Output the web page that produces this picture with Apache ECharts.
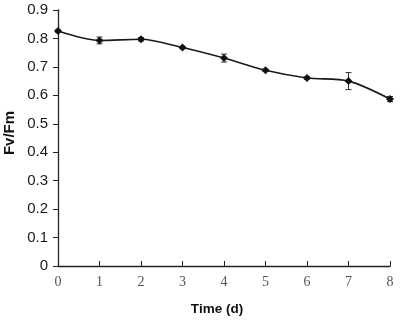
<!DOCTYPE html>
<html><head><meta charset="utf-8">
<script src="https://cdn.jsdelivr.net/npm/echarts@6/dist/echarts.min.js"></script>
<style>html,body{margin:0;padding:0;background:#fff}#c{width:400px;height:322px}</style>
</head><body><div id="c"></div>
<script>
var days = [0, 1, 2, 3, 4, 5, 6, 7, 8];
var fvfm = [0.826, 0.793, 0.797, 0.768, 0.731, 0.688, 0.661, 0.650, 0.587];
var errs = [0.004, 0.012, 0.006, 0.004, 0.014, 0.004, 0.004, 0.030, 0.009];
var yTicks = [0, 0.1, 0.2, 0.3, 0.4, 0.5, 0.6, 0.7, 0.8, 0.9];

var chart = echarts.init(document.getElementById('c'));
var lineData = days.map(function(d, i){ return [d, fvfm[i]]; });
var errData = days.map(function(d, i){ return [d, fvfm[i] - errs[i], fvfm[i] + errs[i]]; });

chart.setOption({
  animation: false,
  backgroundColor: '#fff',
  grid: {left: 58, right: 10, top: 10, bottom: 56, containLabel: false},
  xAxis: {
    type: 'value', min: 0, max: 8, interval: 1,
    axisLine: {lineStyle: {color: '#222', width: 1.3}},
    axisTick: {inside: true, length: 5, lineStyle: {color: '#222'}},
    axisLabel: {fontFamily: 'Liberation Serif', fontSize: 14, color: '#555', margin: 9},
    splitLine: {show: false}
  },
  yAxis: {
    type: 'value', min: 0, max: 0.9, interval: 0.1,
    axisLine: {show: true, lineStyle: {color: '#222', width: 1.3}},
    axisTick: {show: true, inside: false, length: 5, lineStyle: {color: '#222'}},
    axisLabel: {fontFamily: 'Liberation Sans', fontSize: 15, color: '#1a1a1a', margin: 10,
      formatter: function(v){ return String(Math.round(v*10)/10); }},
    splitLine: {show: false}
  },
  graphic: [
    {type: 'text', style: {text: 'Fv/Fm', font: 'bold 15px "Liberation Sans"', fill: '#111',
      textAlign: 'center', textVerticalAlign: 'middle'}, x: 10, y: 133, rotation: Math.PI/2},
    {type: 'text', style: {text: 'Time (d)', font: 'bold 13.5px "Liberation Sans"', fill: '#111',
      textAlign: 'center', textVerticalAlign: 'middle'}, x: 217, y: 309}
  ],
  series: [
    {
      type: 'line', data: lineData, smooth: 0.3,
      symbol: 'diamond', symbolSize: 8,
      lineStyle: {color: '#1a1a1a', width: 1.6},
      itemStyle: {color: '#111'}
    },
    {
      type: 'custom', data: errData,
      renderItem: function(params, api){
        var x = api.value(0);
        var lo = api.coord([x, api.value(1)]);
        var hi = api.coord([x, api.value(2)]);
        var w = 3;
        return {type: 'group', children: [
          {type: 'line', shape: {x1: lo[0], y1: lo[1], x2: hi[0], y2: hi[1]}, style: {stroke: '#333', lineWidth: 1}},
          {type: 'line', shape: {x1: lo[0]-w, y1: lo[1], x2: lo[0]+w, y2: lo[1]}, style: {stroke: '#333', lineWidth: 1}},
          {type: 'line', shape: {x1: hi[0]-w, y1: hi[1], x2: hi[0]+w, y2: hi[1]}, style: {stroke: '#333', lineWidth: 1}}
        ]};
      },
      z: 3
    }
  ]
});
</script></body></html>
